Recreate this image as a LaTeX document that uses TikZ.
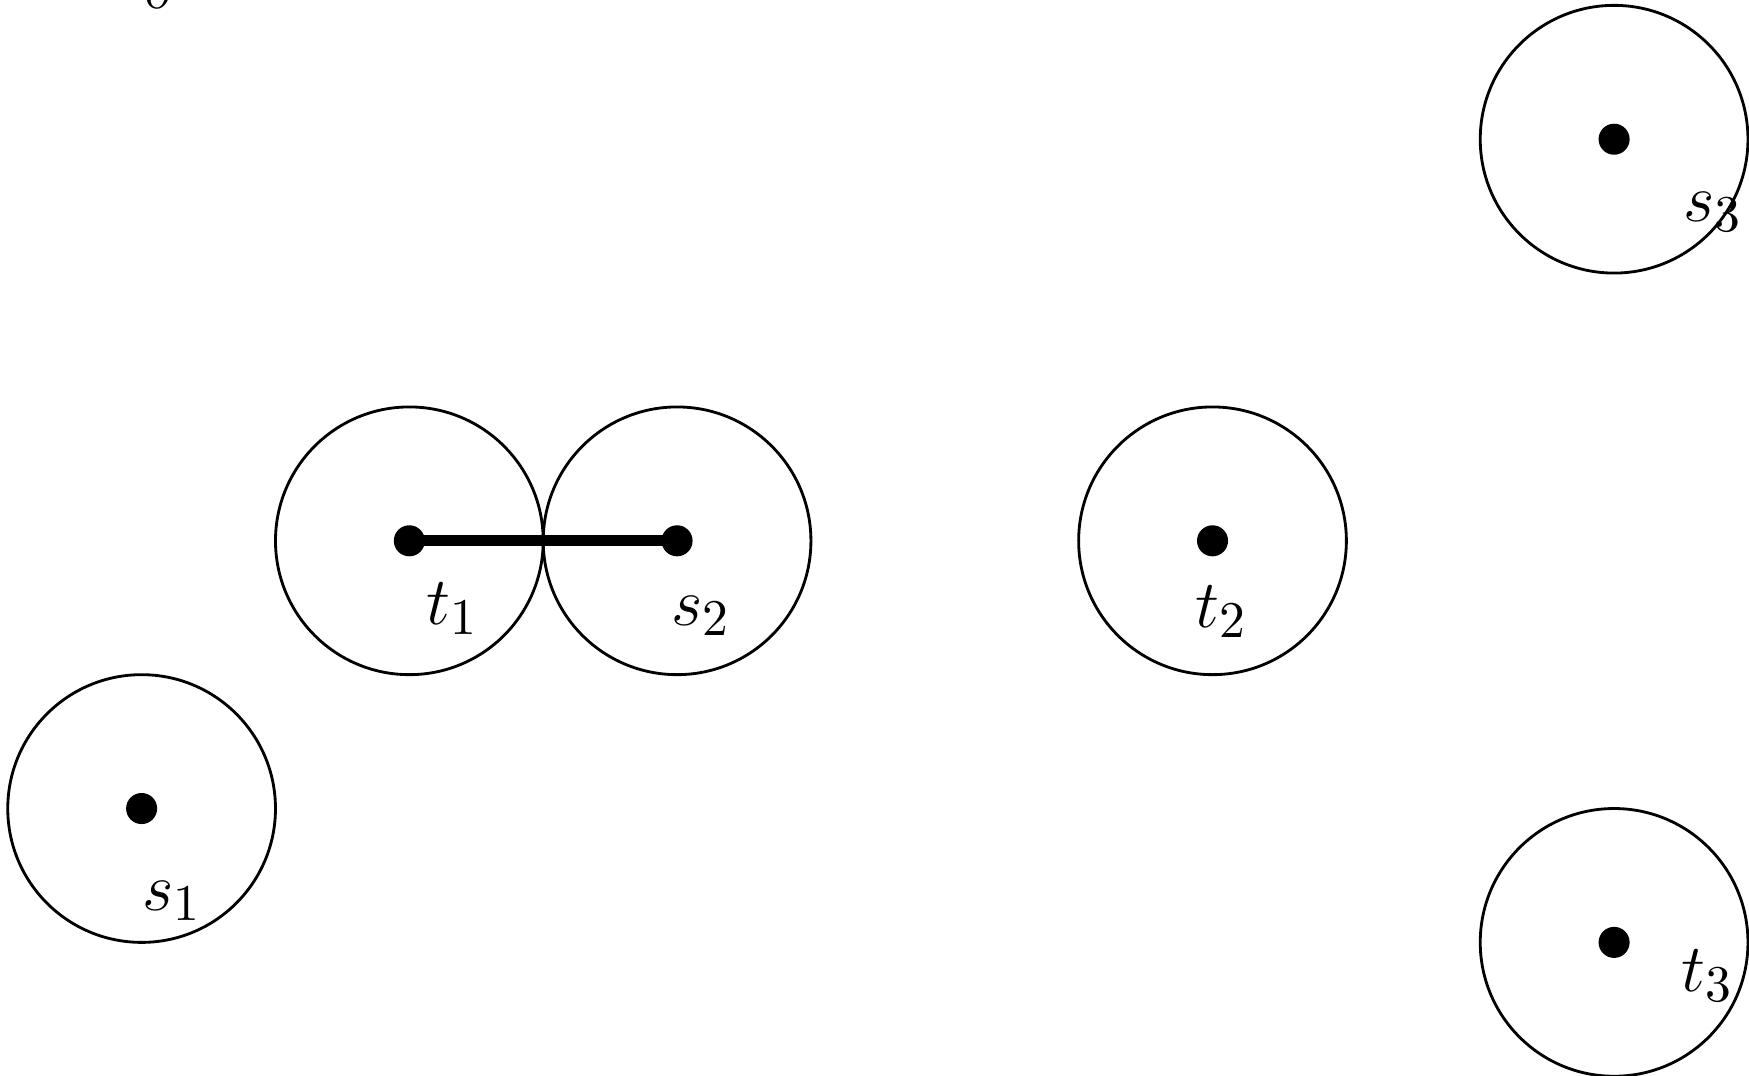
\documentclass[tikz,border=0pt]{standalone}
\begin{document}
\begin{tikzpicture}[x=2cm,y=2cm,
	dot/.style={circle,fill=black,inner sep=0pt,minimum size=6.6pt},
	disc/.style={semithick},
	lbl/.style={font=\fontsize{15.8}{19}\selectfont}]
	\clip (-1.529,-1.996) rectangle (5.004,2.020);
	\draw[line width=2.4pt] (0,0) coordinate (a) -- (1,0) coordinate (b);
	\node[dot] (t1) at (a) {};
	\node[dot] (s2) at (b) {};
	\node[dot] (t2) at (3,0) {};
	\node[dot] (s1) at (-1,-1) {};
	\node[dot] (s3) at (4.5,1.5) {};
	\node[dot] (t3) at (4.5,-1.5) {};
	\draw[disc] (t1) circle (0.5);
	\draw[disc] (s2) circle (0.5);
	\draw[disc] (t2) circle (0.5);
	\draw[disc] (s1) circle (0.5);
	\draw[disc] (s3) circle (0.5);
	\draw[disc] (t3) circle (0.5);
	\node[lbl] (lt1) at (0.16,-0.255) {$t_1$};
	\node[lbl] (ls2) at (1.09,-0.28) {$s_2$};
	\node[lbl] (lt2) at (3.035,-0.265) {$t_2$};
	\node[lbl] (ls1) at (-0.885,-1.345) {$s_1$};
	\node[lbl] (ls3) at (4.87,1.23) {$s_3$};
	\node[lbl] (lt3) at (4.85,-1.625) {$t_3$};
	\node[lbl] (top) at (-0.929,2.075) {$\delta$};
\end{tikzpicture}
\end{document}
